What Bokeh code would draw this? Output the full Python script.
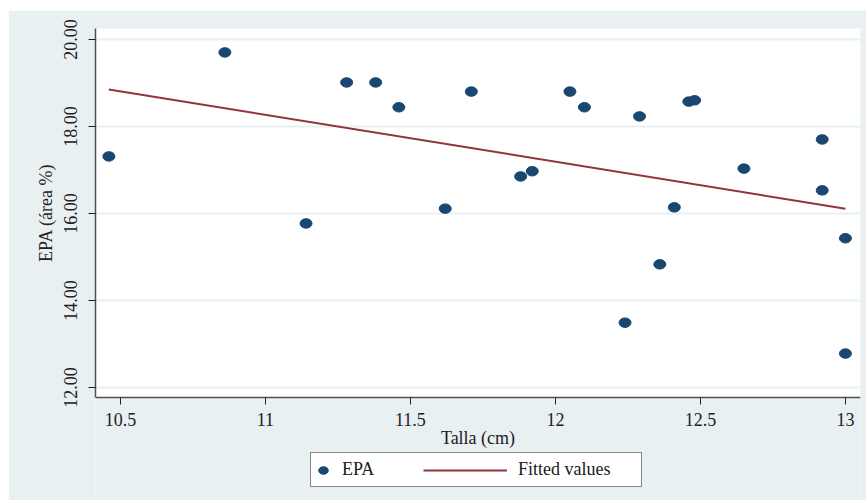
from bokeh.plotting import figure
from bokeh.models import (ColumnDataSource, Range1d, FixedTicker, Legend,
                          LegendItem, BoxAnnotation)
from bokeh.embed import file_html
from bokeh.resources import INLINE

# ---- data ----
talla = [10.46, 10.86, 11.14, 11.28, 11.38, 11.46, 11.62, 11.71, 11.88, 11.92,
         12.05, 12.10, 12.24, 12.29, 12.36, 12.41, 12.46, 12.48, 12.65, 12.92,
         12.92, 13.00, 13.00]
epa = [17.31, 19.70, 15.77, 19.01, 19.01, 18.44, 16.11, 18.80, 16.85, 16.97,
       18.80, 18.44, 13.49, 18.23, 14.83, 16.14, 18.57, 18.60, 17.03, 17.70,
       16.53, 15.43, 12.78]
fit_x = [10.46, 13.00]
fit_y = [18.85, 16.11]

x_ticks = [10.5, 11.0, 11.5, 12.0, 12.5, 13.0]
x_tick_labels = ["10.5", "11", "11.5", "12", "12.5", "13"]
y_ticks = [12.0, 14.0, 16.0, 18.0, 20.0]
y_tick_labels = ["12.00", "14.00", "16.00", "18.00", "20.00"]

# ---- layout / style ----
X_MIN, X_MAX = 10.414, 13.052
Y_AXIS_MIN, Y_MAX = 11.77, 20.25
Y_FRAME_MIN = 9.403          # frame extends below the plot region to host the legend
BG = "#E9F0F2"
NAVY = "#1A476F"
MAROON = "#90353B"
FONT = "'Liberation Serif', 'Times New Roman', serif"
FS = "18px"
PAD = "\u00a0" * 23          # shifts the y title up to the centre of the plot region

p = figure(width=858, height=490, output_backend="svg", toolbar_location=None,
           x_range=Range1d(X_MIN, X_MAX), y_range=Range1d(Y_FRAME_MIN, Y_MAX),
           min_border_left=87, min_border_right=6, min_border_top=18,
           min_border_bottom=0)
p.margin = (10, 0, 0, 8)
p.border_fill_color = BG
p.background_fill_color = BG
p.outline_line_color = None

# white plot region
p.add_layout(BoxAnnotation(bottom=Y_AXIS_MIN, fill_color="white", fill_alpha=1,
                           line_alpha=0, level="image"))

# grid
p.xgrid.grid_line_color = None
p.ygrid.grid_line_color = BG
p.ygrid.grid_line_width = 2

# axes
p.xaxis.ticker = FixedTicker(ticks=x_ticks)
p.xaxis.major_label_overrides = dict(zip(x_ticks, x_tick_labels))
p.xaxis.fixed_location = Y_AXIS_MIN
p.yaxis.ticker = FixedTicker(ticks=y_ticks)
p.yaxis.major_label_overrides = dict(zip(y_ticks, y_tick_labels))
p.yaxis.bounds = (Y_AXIS_MIN, Y_MAX)
for ax in (p.xaxis[0], p.yaxis[0]):
    ax.axis_line_color = "#505050"
    ax.axis_line_width = 1.5
    ax.major_tick_line_color = "#202020"
    ax.major_tick_in = 0
    ax.major_tick_out = 7
    ax.minor_tick_line_color = None
    ax.major_label_text_font = FONT
    ax.major_label_text_font_size = FS
    ax.major_label_text_color = "#202020"
    ax.axis_label_text_font = FONT
    ax.axis_label_text_font_size = FS
    ax.axis_label_text_font_style = "normal"
    ax.axis_label_text_color = "#202020"
p.xaxis.axis_label = "Talla (cm)"
p.yaxis.axis_label = PAD + "EPA (área %)"
p.xaxis.major_label_standoff = 8
p.xaxis.axis_label_standoff = -1
p.yaxis.major_label_orientation = "vertical"
p.yaxis.major_label_standoff = 11
p.yaxis.axis_label_standoff = 6

src = ColumnDataSource(dict(x=talla, y=epa))
pts_r = p.ellipse(x="x", y="y", width=12, height=9.5, width_units="screen",
                  height_units="screen", source=src, fill_color=NAVY,
                  line_color=NAVY)
fit_r = p.line(fit_x, fit_y, line_color=MAROON, line_width=2)

# legend frame helper (invisible renderer)
box_r = p.line([], [], line_alpha=0)

leg_box = Legend(items=[LegendItem(label=" ", renderers=[box_r])],
                 location=(215, 13), orientation="horizontal",
                 glyph_width=330, glyph_height=33, label_width=0, label_height=0,
                 label_standoff=0, padding=0, margin=0, spacing=0,
                 label_text_font_size="1px",
                 border_line_color="#111111", border_line_width=1.2,
                 background_fill_color="white", background_fill_alpha=1)
leg_a = Legend(items=[LegendItem(label="EPA", renderers=[pts_r])],
               location=(222, 20), glyph_width=12, glyph_height=20,
               label_height=20, label_standoff=13, padding=0, margin=0,
               label_text_font=FONT, label_text_font_size=FS,
               label_text_color="#202020",
               border_line_alpha=0, background_fill_alpha=0)
leg_b = Legend(items=[LegendItem(label="Fitted values", renderers=[fit_r])],
               location=(328, 20), glyph_width=84, glyph_height=20,
               label_height=20, label_standoff=11, padding=0, margin=0,
               label_text_font=FONT, label_text_font_size=FS,
               label_text_color="#202020",
               border_line_alpha=0, background_fill_alpha=0)
p.add_layout(leg_box, "center")
p.add_layout(leg_a, "center")
p.add_layout(leg_b, "center")

open("out.html", "w").write(file_html(p, INLINE))
